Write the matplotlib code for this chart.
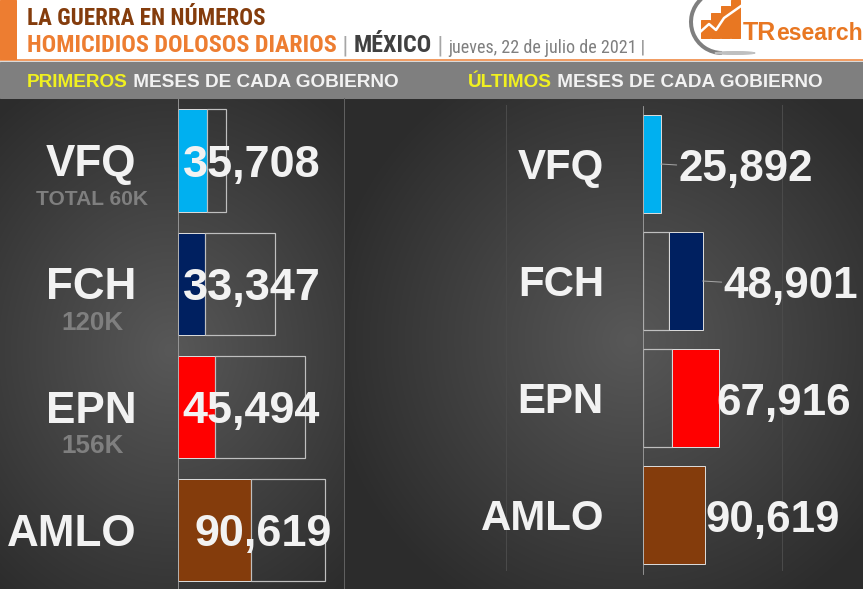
import numpy as np
import matplotlib
matplotlib.use('Agg')
import matplotlib.pyplot as plt
from matplotlib import font_manager
from matplotlib.patches import Rectangle, Arc, Ellipse

# --- data ------------------------------------------------------------
presidents = ['VFQ', 'FCH', 'EPN', 'AMLO']
term_totals = ['TOTAL 60K', '120K', '156K', '']
first_months = [35708, 33347, 45494, 90619]
first_rest = [24292, 86653, 110506, 90619]      # outlined remainder, left panel
last_before = [0, 38500, 42700, 0]              # outlined lead-in, right panel
last_months = [25892, 48901, 67916, 90619]
bar_colors = ['#00B0F0', '#002060', '#FF0000', '#843C0C']

# label nudges (px) and sizes
left_pad = [5, 5, 5, 17]
right_pad = [18, 21, -2, 1]
total_sizes = [21, 26, 26, 0]

W, H, DPI = 863, 589, 72
ORANGE = '#ED7D31'
WHITE = '#F2F2F2'


def pick_font(candidates, fallback):
    for name in candidates:
        try:
            font_manager.findfont(font_manager.FontProperties(family=name),
                                  fallback_to_default=False)
            return name
        except ValueError:
            pass
    return fallback


SANS = 'Liberation Sans'
NARROW = pick_font(['Liberation Sans Narrow', 'Roboto Condensed'], SANS)


def draw_background(bg):
    yy, xx = np.mgrid[98:H, 0:W].astype(float)
    r_left = np.hypot((xx - 170) / 270, (yy - 350) / 310)
    r_right = np.hypot((xx - 630) / 310, (yy - 340) / 310)
    shade = np.clip(np.where(xx < 344, r_left, r_right), 0, 1)
    level = (0x58 - (0x58 - 0x2c) * shade) / 255
    bg.imshow(np.dstack([level] * 3), extent=(0, W, H, 98), aspect='auto',
              interpolation='bilinear', zorder=0)

    bg.plot([344, 344], [98, H], color='#606060', lw=1)
    bg.plot([506, 506], [105, 570], color='#4a4a4a', lw=1)
    bg.plot([782, 782], [105, 570], color='#4a4a4a', lw=1)


def draw_header(bg):
    bg.add_patch(Rectangle((0, 0), 16, 59, color=ORANGE))
    bg.plot([0, W], [59.5, 59.5], color=ORANGE, lw=1.5)
    bg.plot([0, W], [61, 61], color='#d9d9d9', lw=1)
    bg.add_patch(Rectangle((0, 62), W, 36, color='#7F7F7F'))

    bg.text(27, 25, 'LA GUERRA EN NÚMEROS', fontsize=23, family=NARROW,
            weight='bold', color='#843C0C', va='baseline')
    t = bg.text(27, 52, 'HOMICIDIOS DOLOSOS DIARIOS', fontsize=24, family=NARROW,
                weight='bold', color=ORANGE, va='baseline')
    pieces = [(' | ', '#A6A6A6', 'normal', 24),
              ('MÉXICO', '#404040', 'bold', 24),
              (' | ', '#A6A6A6', 'normal', 24),
              ('jueves, 22 de julio de 2021 |', '#7F7F7F', 'normal', 18)]
    for txt, col, wt, fs in pieces:
        t = bg.annotate(txt, xy=(1, 0), xycoords=t, va='bottom', ha='left',
                        fontsize=fs, family=NARROW, weight=wt, color=col)

    for x, word in [(27, 'PRIMEROS'), (468, 'ÚLTIMOS')]:
        t = bg.text(x, 87, word, fontsize=19, family=SANS, weight='bold',
                    color='#F0F020', va='baseline')
        bg.annotate(' MESES DE CADA GOBIERNO', xy=(1, 0), xycoords=t,
                    va='bottom', fontsize=19, family=SANS, weight='bold',
                    color=WHITE)


def draw_logo(bg):
    bg.add_patch(Arc((722, 22), 62, 62, theta1=90, theta2=228,
                     color='#7F7F7F', lw=4))
    bg.add_patch(Ellipse((735, 53), 40, 3, color='#BFBFBF'))
    for x, top in zip([701, 711, 721, 731], [20, 13, 6, 0]):
        bg.add_patch(Rectangle((x, top), 8.5, 38 - top, color='#E87722'))
    bg.plot([699, 709, 716, 724, 741], [33, 24, 30, 18, 6], color='white', lw=2.5)
    t = bg.text(743, 40, 'TR', fontsize=25, family=SANS, weight='bold',
                color='#E87722', va='baseline')
    bg.annotate('esearch', xy=(1, 0), xycoords=t, va='bottom', fontsize=23,
                family=SANS, weight='bold', color='#E87722')


def bar_axes(fig, x0, x1, center0, spacing, px_value):
    top = center0 - 0.5 * spacing
    bottom = center0 + 3.5 * spacing
    ax = fig.add_axes([x0 / W, (H - bottom) / H, (x1 - x0) / W, (bottom - top) / H])
    ax.set_xlim(0, (x1 - x0) * px_value)
    ax.set_ylim(3.5, -0.5)
    ax.patch.set_visible(False)
    for side in ['top', 'right', 'bottom']:
        ax.spines[side].set_visible(False)
    ax.spines['left'].set_color('#A6A6A6')
    ax.set_xticks([])
    ax.set_yticks([])
    return ax


def name_labels(ax, dx, fs, sub=None):
    for i, name in enumerate(presidents):
        ax.annotate(name, xy=(0, i), xytext=(dx, -0.358 * fs), textcoords='offset points',
                    ha='right', va='baseline', fontsize=fs, family=SANS,
                    weight='bold', color=WHITE, annotation_clip=False)
        if sub and sub[i]:
            sz = total_sizes[i]
            ax.annotate(sub[i], xy=(0, i), xytext=(-85, -37 - 0.358 * sz),
                        textcoords='offset points', ha='center', va='baseline',
                        fontsize=sz, family=SANS, weight='bold', color='#7F7F7F',
                        annotation_clip=False)


def plot_first_months(fig):
    ax = bar_axes(fig, 177.5, 344, 160.5, 123.2, 1225)
    y = np.arange(len(presidents))
    ax.barh(y, first_months, height=0.83, color=bar_colors, edgecolor='#D9D9D9', lw=1)
    ax.barh(y, first_rest, left=first_months, height=0.83, facecolor='none',
            edgecolor='#BFBFBF', lw=1.2)
    name_labels(ax, -41, 44, term_totals)
    for i, v in enumerate(first_months):
        ax.annotate(f'{v:,}', xy=(0, i), xytext=(left_pad[i], -0.358 * 45),
                    textcoords='offset points', ha='left', va='baseline',
                    fontsize=45, family=SANS, weight='bold', color=WHITE,
                    annotation_clip=False, zorder=5)


def plot_last_months(fig):
    ax = bar_axes(fig, 643, W, 164, 117, 1465)
    y = np.arange(len(presidents))
    ax.barh(y, last_before, height=0.83, facecolor='none', edgecolor='#BFBFBF', lw=1.2)
    ax.barh(y, last_months, left=last_before, height=0.83, color=bar_colors,
            edgecolor='#D9D9D9', lw=1)
    name_labels(ax, -39, 42)
    for i, v in enumerate(last_months):
        arrow = None
        if right_pad[i] > 10:
            arrow = dict(arrowstyle='-', color='#A6A6A6', lw=1, shrinkA=0, shrinkB=0)
        ax.annotate(f'{v:,}', xy=(last_before[i] + v, i),
                    xytext=(right_pad[i], -1 - 0.358 * 44), textcoords='offset points',
                    ha='left', va='baseline', fontsize=44, family=SANS,
                    weight='bold', color=WHITE, arrowprops=arrow,
                    annotation_clip=False, zorder=5)


def main():
    fig = plt.figure(figsize=(W / DPI, H / DPI), dpi=DPI, facecolor='white')
    bg = fig.add_axes([0, 0, 1, 1])
    bg.set_xlim(0, W)
    bg.set_ylim(H, 0)
    bg.axis('off')

    draw_background(bg)
    draw_header(bg)
    draw_logo(bg)
    plot_first_months(fig)
    plot_last_months(fig)

    fig.savefig('out.png', dpi=DPI, facecolor='white')


if __name__ == '__main__':
    main()
